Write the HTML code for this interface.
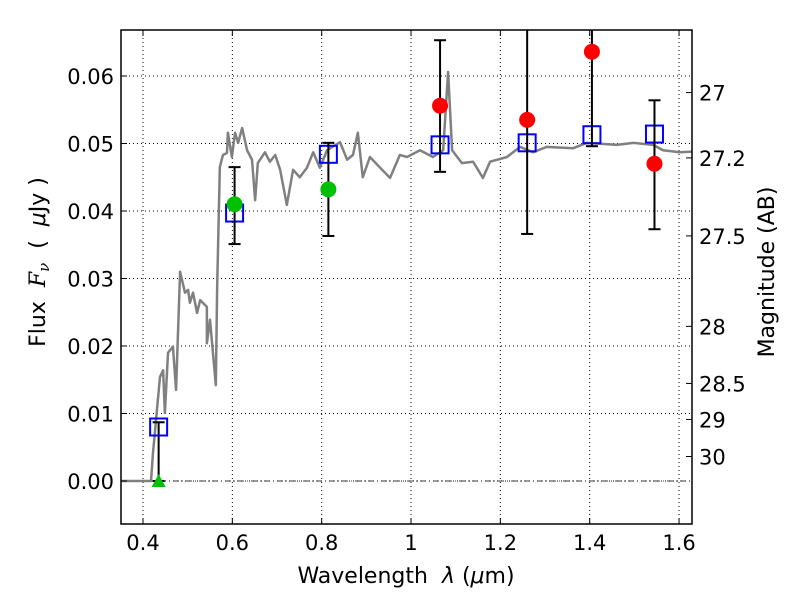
<!DOCTYPE html>
<html><head><meta charset="utf-8"><style>
body{margin:0;background:#fff}
svg text{font-family:"DejaVu Sans","Liberation Sans",sans-serif;fill:#000}
</style></head><body>
<svg id="c" width="800" height="600"></svg>
<script>
const specLam=[0.351,0.418,0.422,0.438,0.445,0.449,0.456,0.467,0.474,0.483,0.494,0.501,0.505,0.512,0.521,0.528,0.543,0.543,0.550,0.563,0.566,0.572,0.579,0.588,0.590,0.599,0.606,0.613,0.622,0.633,0.644,0.651,0.657,0.673,0.684,0.696,0.707,0.722,0.736,0.751,0.767,0.781,0.796,0.812,0.841,0.857,0.870,0.881,0.892,0.908,0.931,0.953,0.975,0.991,1.020,1.049,1.072,1.083,1.092,1.114,1.139,1.161,1.177,1.215,1.244,1.273,1.304,1.363,1.394,1.461,1.497,1.542,1.564,1.602,1.629];
const specFlux=[0,0,0.0039,0.0154,0.0164,0.0101,0.0190,0.0199,0.0135,0.0310,0.0279,0.0283,0.0264,0.0279,0.0249,0.0268,0.0258,0.0204,0.0239,0.0142,0.0287,0.0465,0.0483,0.0486,0.0516,0.0480,0.0516,0.0501,0.0523,0.0490,0.0476,0.0416,0.0471,0.0487,0.0473,0.0483,0.0461,0.0409,0.0461,0.0450,0.0464,0.0487,0.0464,0.0490,0.0502,0.0476,0.0483,0.0516,0.0450,0.0480,0.0464,0.0449,0.0483,0.0480,0.0490,0.0480,0.0490,0.0606,0.0490,0.0471,0.0473,0.0449,0.0473,0.0480,0.0495,0.0487,0.0495,0.0493,0.0501,0.0498,0.0501,0.0498,0.0490,0.0487,0.0488];
const modelLam=[0.435,0.605,0.815,1.065,1.26,1.405,1.545];
const modelFlux=[0.0080,0.0397,0.0484,0.0498,0.0501,0.0513,0.0514];
const redLam=[1.065,1.26,1.405,1.545];
const redFlux=[0.0556,0.0535,0.0636,0.047];
const redHi=[0.0653,0.08,0.08,0.0564];
const redLo=[0.0458,0.0366,0.0496,0.0373];
const greenLam=[0.605,0.815];
const greenFlux=[0.041,0.0432];
const greenHi=[0.0465,0.0501];
const greenLo=[0.0351,0.0363];
const limLam=[0.435];
const limFlux=[0];
const limHi=[0.0087];
const xTicks=[0.4,0.6,0.8,1.0,1.2,1.4,1.6];
const xTickLabels=["0.4","0.6","0.8","1","1.2","1.4","1.6"];
const yTicks=[0,0.01,0.02,0.03,0.04,0.05,0.06];
const yTickLabels=["0.00","0.01","0.02","0.03","0.04","0.05","0.06"];
const magTicks=[27,27.2,27.5,28,28.5,29,30];
const magTickLabels=["27","27.2","27.5","28","28.5","29","30"];

const L=121,R=692,T=30,B=524;
const X=v=>143+(v-0.4)*446.7;
const Y=v=>481-v*6750;
const NS="http://www.w3.org/2000/svg";
const svg=document.getElementById('c');
function mk(t,a,p){const e=document.createElementNS(NS,t);for(const k in a)e.setAttribute(k,a[k]);(p||svg).appendChild(e);return e;}
const clip=mk('clipPath',{id:'pc'});mk('rect',{x:L,y:T,width:R-L,height:B-T},clip);
const plot=mk('g',{'clip-path':'url(#pc)'});


xTicks.forEach(v=>{const g=mk('line',{x1:X(v),x2:X(v),y1:T,y2:B,stroke:'#000','stroke-width':1,'stroke-dasharray':'1,3'},plot);

});
yTicks.forEach(v=>{const g=mk('line',{x1:L,x2:R,y1:Y(v),y2:Y(v),stroke:'#000','stroke-width':1,'stroke-dasharray':'1,3'},plot);

});
const zl=mk('line',{x1:L,x2:R,y1:Y(0),y2:Y(0),stroke:'#000','stroke-width':0.8,'stroke-dasharray':'6,3,1,3'},plot);


const sp=mk('polyline',{points:specLam.map((l,i)=>X(l)+','+Y(specFlux[i])).join(' '),fill:'none',stroke:'#808080','stroke-width':2.5,'stroke-linejoin':'round'},plot);


function ebar(x,lo,hi){const g=mk('g',{},plot);


mk('line',{x1:X(x),x2:X(x),y1:Y(lo),y2:Y(hi),stroke:'#000','stroke-width':2},g);
[lo,hi].forEach(v=>mk('line',{x1:X(x)-6,x2:X(x)+6,y1:Y(v),y2:Y(v),stroke:'#000','stroke-width':2},g));}
limLam.forEach((l,i)=>ebar(l,limFlux[i],limHi[i]));
modelLam.forEach((l,i)=>{const r=mk('rect',{x:X(l)-8.5,y:Y(modelFlux[i])-8.5,width:17,height:17,fill:'none',stroke:'#0000ff','stroke-width':2},plot);

});
greenLam.forEach((l,i)=>{ebar(l,greenLo[i],greenHi[i]);const c=mk('circle',{cx:X(l),cy:Y(greenFlux[i]),r:8,fill:'#00c000'},plot);

});
redLam.forEach((l,i)=>{ebar(l,redLo[i],redHi[i]);const c=mk('circle',{cx:X(l),cy:Y(redFlux[i]),r:8,fill:'#ff0000'},plot);

});
limLam.forEach((l,i)=>{const x=X(l),y=Y(limFlux[i]);const t=mk('polygon',{points:`${x-7},${y+6} ${x+7},${y+6} ${x},${y-7}`,fill:'#00c000'},plot);

});
const fr=mk('rect',{x:L,y:T,width:R-L,height:B-T,fill:'none',stroke:'#000','stroke-width':1.5});


xTicks.forEach((v,i)=>{mk('line',{x1:X(v),x2:X(v),y1:B,y2:B-6,stroke:'#000'});mk('line',{x1:X(v),x2:X(v),y1:T,y2:T+6,stroke:'#000'});
const t=mk('text',{x:X(v),y:B+26,'text-anchor':'middle','font-size':21});t.textContent=xTickLabels[i];

});
yTicks.forEach((v,i)=>{mk('line',{x1:L,x2:L+6,y1:Y(v),y2:Y(v),stroke:'#000'});
const t=mk('text',{x:L-7,y:Y(v)+8,'text-anchor':'end','font-size':21});t.textContent=yTickLabels[i];

});
magTicks.forEach((m,i)=>{const y=Y(Math.pow(10,(23.9-m)/2.5));mk('line',{x1:R,x2:R-6,y1:y,y2:y,stroke:'#000'});
const t=mk('text',{x:R+7,y:y+8,'font-size':21});t.textContent=magTickLabels[i];

});
</script>
<svg width="800" height="600" style="position:absolute;left:0;top:0">
<text x="406" y="583" text-anchor="middle" font-size="22" xml:space="preserve">Wavelength  <tspan font-style="italic">λ</tspan> (<tspan font-style="italic">μ</tspan>m)</text>
<text transform="translate(45,262) rotate(-90)" text-anchor="middle" font-size="22" xml:space="preserve">Flux  <tspan font-family="DejaVu Serif" font-style="italic">F<tspan font-size="15" dy="4">ν</tspan></tspan><tspan dy="-4">  (  </tspan><tspan font-style="italic">μ</tspan>Jy )</text>
<text transform="translate(774,272) rotate(-90)" text-anchor="middle" font-size="22">Magnitude (AB)</text>
</svg>
</body></html>
